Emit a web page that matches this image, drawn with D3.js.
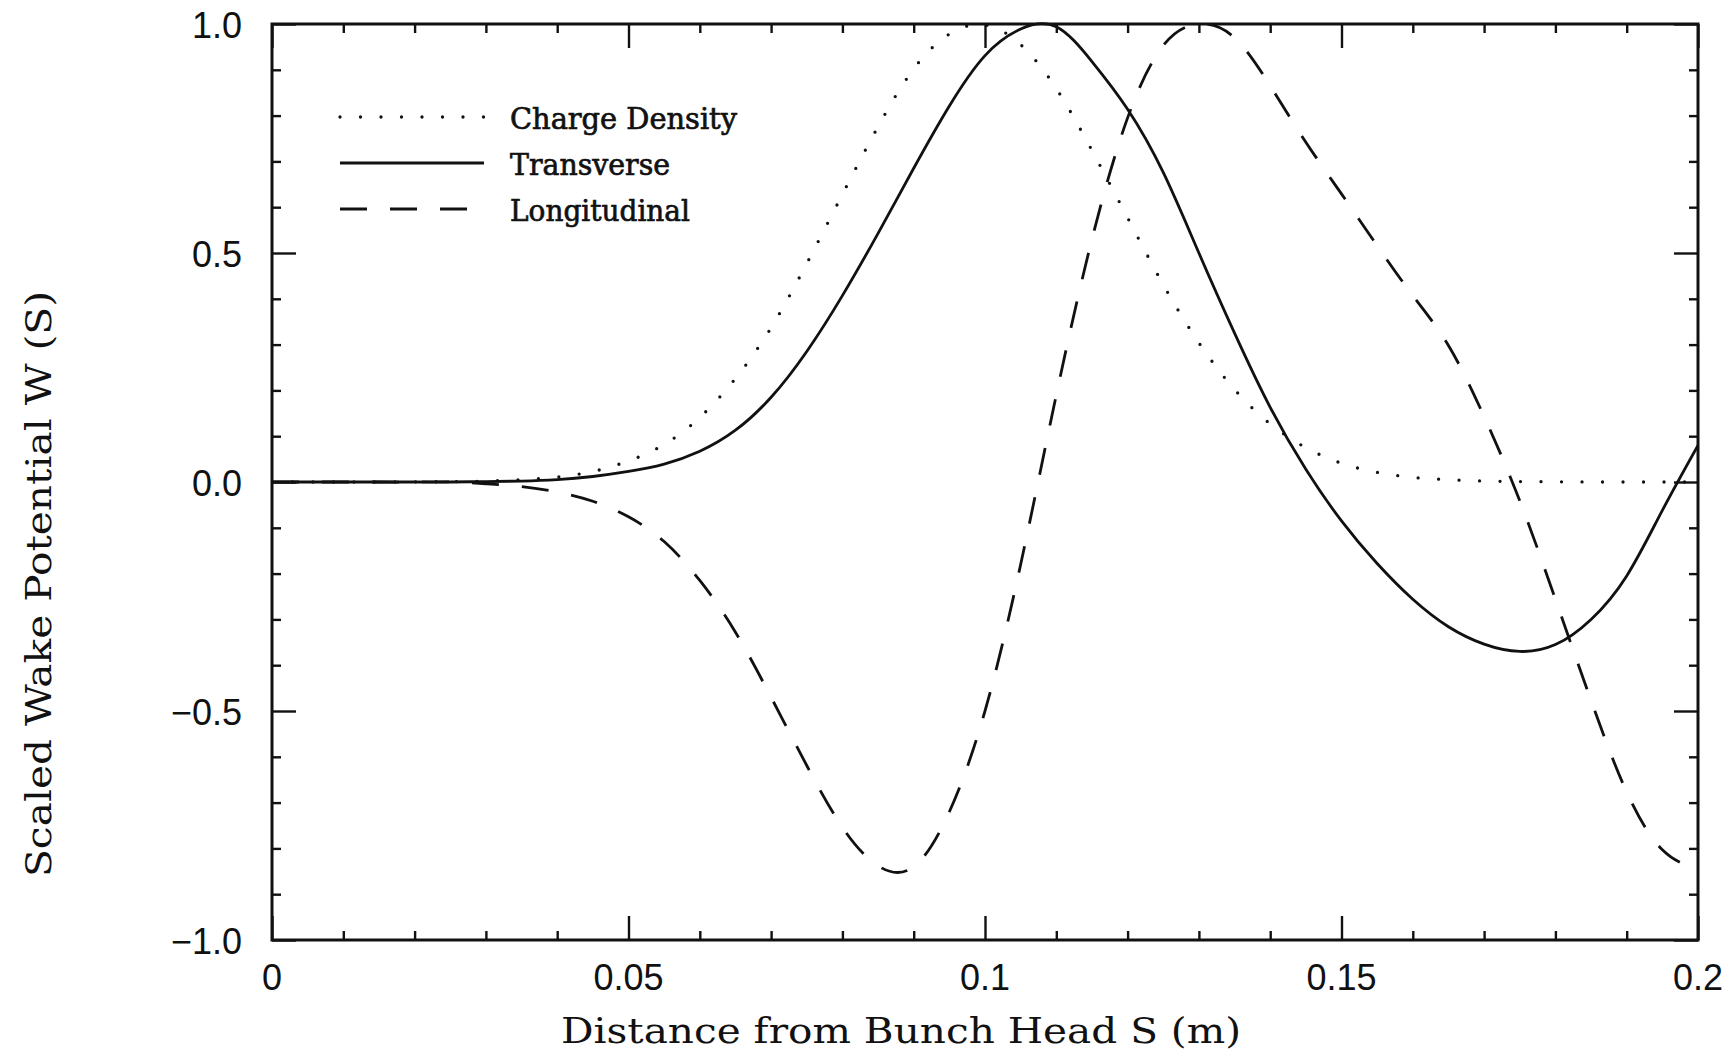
<!DOCTYPE html>
<html>
<head>
<meta charset="utf-8">
<script src="https://cdn.jsdelivr.net/npm/d3@7/dist/d3.min.js"></script>
<style>
  html, body { margin: 0; padding: 0; background: #fff; }
  svg { display: block; }
</style>
</head>
<body>
<svg id="chart" width="1725" height="1053"></svg>
<script>
// Distance from bunch head (m), sampled every 5 mm
const distance = [
  0, 0.005, 0.01, 0.015, 0.02, 0.025, 0.03, 0.035, 0.04, 0.045,
  0.05, 0.055, 0.06, 0.065, 0.07, 0.075, 0.08, 0.085, 0.09, 0.095,
  0.1, 0.105, 0.11, 0.115, 0.12, 0.125, 0.13, 0.135, 0.14, 0.145,
  0.15, 0.155, 0.16, 0.165, 0.17, 0.175, 0.18, 0.185, 0.19, 0.195, 0.2
];

// Normalised bunch charge density
const chargeDensity = [
  0, 0, 0, 0, 0.0003, 0.0008, 0.002, 0.005, 0.011, 0.023,
  0.046, 0.082, 0.141, 0.226, 0.337, 0.477, 0.628, 0.776, 0.902, 0.978,
  0.998, 0.955, 0.859, 0.724, 0.577, 0.431, 0.304, 0.202, 0.127, 0.075,
  0.041, 0.021, 0.010, 0.005, 0.002, 0.001, 0.0005, 0, 0, 0, 0
];

// Scaled transverse wake potential
const transverse = [
  0, 0, 0, 0, 0, 0, 0.001, 0.002, 0.005, 0.012,
  0.023, 0.039, 0.067, 0.113, 0.185, 0.285, 0.407, 0.543, 0.685, 0.821,
  0.931, 0.989, 0.994, 0.918, 0.814, 0.676, 0.500, 0.325, 0.163, 0.028,
  -0.085, -0.178, -0.256, -0.316, -0.354, -0.370, -0.355, -0.300, -0.205, -0.062, 0.080
];

// Scaled longitudinal wake potential
const longitudinal = [
  0, 0, 0, 0, 0, 0, -0.004, -0.010, -0.022, -0.042,
  -0.076, -0.130, -0.215, -0.328, -0.470, -0.619, -0.754, -0.838, -0.840, -0.720,
  -0.500, -0.180, 0.190, 0.530, 0.795, 0.953, 1.000, 0.970, 0.865, 0.742,
  0.629, 0.516, 0.407, 0.298, 0.143, -0.041, -0.256, -0.477, -0.677, -0.803, -0.845
];

// Axis ticks
const xTickValues = [0, 0.05, 0.1, 0.15, 0.2];
const xTickLabels = ["0", "0.05", "0.1", "0.15", "0.2"];
const xMinorTicks = [0.01, 0.02, 0.03, 0.04, 0.06, 0.07, 0.08, 0.09, 0.11, 0.12, 0.13, 0.14, 0.16, 0.17, 0.18, 0.19];
const yTickValues = [-1, -0.5, 0, 0.5, 1];
const yTickLabels = ["\u22121.0", "\u22120.5", "0.0", "0.5", "1.0"];
const yMinorTicks = [-0.9, -0.8, -0.7, -0.6, -0.4, -0.3, -0.2, -0.1, 0.1, 0.2, 0.3, 0.4, 0.6, 0.7, 0.8, 0.9];

// Series names and legend labels
const seriesNames = ["Charge Density", "Transverse", "Longitudinal"];

// ---- drawing ----
const svg = d3.select("#chart");
const W = 1725, H = 1053;
const plot = { left: 272, right: 1698, top: 24, bottom: 940 };

svg.append("rect").attr("width", W).attr("height", H).attr("fill", "#fff");

const x = d3.scaleLinear().domain([0, 0.2]).range([plot.left, plot.right]);
const y = d3.scaleLinear().domain([-1, 1]).range([plot.bottom, plot.top]);

const ink = "#111";
const majorLen = 24, minorLen = 9;

function styleAxis(g) {
  g.select(".domain").remove();
  g.selectAll(".tick line").attr("stroke", ink).attr("stroke-width", 2.4);
}

// Inward ticks on all four sides
svg.append("g").attr("transform", `translate(0,${plot.bottom})`)
  .call(d3.axisBottom(x).tickValues(xTickValues).tickSizeInner(-majorLen).tickSizeOuter(0).tickFormat(""))
  .call(styleAxis);
svg.append("g").attr("transform", `translate(0,${plot.bottom})`)
  .call(d3.axisBottom(x).tickValues(xMinorTicks).tickSizeInner(-minorLen).tickSizeOuter(0).tickFormat(""))
  .call(styleAxis);
svg.append("g").attr("transform", `translate(0,${plot.top})`)
  .call(d3.axisTop(x).tickValues(xTickValues).tickSizeInner(-majorLen).tickSizeOuter(0).tickFormat(""))
  .call(styleAxis);
svg.append("g").attr("transform", `translate(0,${plot.top})`)
  .call(d3.axisTop(x).tickValues(xMinorTicks).tickSizeInner(-minorLen).tickSizeOuter(0).tickFormat(""))
  .call(styleAxis);
svg.append("g").attr("transform", `translate(${plot.left},0)`)
  .call(d3.axisLeft(y).tickValues(yTickValues).tickSizeInner(-majorLen).tickSizeOuter(0).tickFormat(""))
  .call(styleAxis);
svg.append("g").attr("transform", `translate(${plot.left},0)`)
  .call(d3.axisLeft(y).tickValues(yMinorTicks).tickSizeInner(-minorLen).tickSizeOuter(0).tickFormat(""))
  .call(styleAxis);
svg.append("g").attr("transform", `translate(${plot.right},0)`)
  .call(d3.axisRight(y).tickValues(yTickValues).tickSizeInner(-majorLen).tickSizeOuter(0).tickFormat(""))
  .call(styleAxis);
svg.append("g").attr("transform", `translate(${plot.right},0)`)
  .call(d3.axisRight(y).tickValues(yMinorTicks).tickSizeInner(-minorLen).tickSizeOuter(0).tickFormat(""))
  .call(styleAxis);

// Tick labels
const tickFont = "'Liberation Sans', Arial, sans-serif";
svg.append("g").selectAll("text").data(xTickValues).join("text")
  .attr("x", d => x(d)).attr("y", 990)
  .attr("text-anchor", "middle")
  .attr("font-family", tickFont).attr("font-size", 36).attr("fill", ink)
  .text((d, i) => xTickLabels[i]);
svg.append("g").selectAll("text").data(yTickValues).join("text")
  .attr("x", 242).attr("y", d => y(d) + 14)
  .attr("text-anchor", "end")
  .attr("font-family", tickFont).attr("font-size", 36).attr("fill", ink)
  .text((d, i) => yTickLabels[i]);

// Axis titles
const titleFont = "'DejaVu Serif', serif";
svg.append("text")
  .attr("x", 901).attr("y", 1043)
  .attr("text-anchor", "middle")
  .attr("font-family", titleFont).attr("font-size", 36).attr("fill", ink)
  .attr("textLength", 680).attr("lengthAdjust", "spacingAndGlyphs")
  .text("Distance from Bunch Head S (m)");
svg.append("text")
  .attr("transform", "translate(51,584) rotate(-90)")
  .attr("text-anchor", "middle")
  .attr("font-family", titleFont).attr("font-size", 36).attr("fill", ink)
  .attr("textLength", 586).attr("lengthAdjust", "spacingAndGlyphs")
  .text("Scaled Wake Potential W (S)");

// Curves
const styles = [
  { width: 3.3, dash: "0 20.5", cap: "round" },
  { width: 2.8, dash: null, cap: "butt" },
  { width: 2.8, dash: "27 23", cap: "butt" }
];
const seriesValues = [chargeDensity, transverse, longitudinal];

const line = d3.line()
  .x(d => x(d[0]))
  .y(d => y(d[1]))
  .curve(d3.curveNatural);

svg.append("clipPath").attr("id", "plotClip")
  .append("rect")
  .attr("x", plot.left).attr("y", plot.top - 2)
  .attr("width", plot.right - plot.left).attr("height", plot.bottom - plot.top + 4);

const curves = svg.append("g").attr("clip-path", "url(#plotClip)");
seriesValues.forEach((vals, k) => {
  const pts = distance.map((s, i) => [s, vals[i]]);
  curves.append("path")
    .attr("d", line(pts))
    .attr("fill", "none")
    .attr("stroke", ink)
    .attr("stroke-width", styles[k].width)
    .attr("stroke-linecap", styles[k].cap)
    .attr("stroke-linejoin", "round")
    .attr("stroke-dasharray", styles[k].dash);
});

// Frame
svg.append("rect")
  .attr("x", plot.left).attr("y", plot.top)
  .attr("width", plot.right - plot.left).attr("height", plot.bottom - plot.top)
  .attr("fill", "none").attr("stroke", ink).attr("stroke-width", 3);

// Legend
const legendRows = [117, 163, 209];
const legendTextLen = [227, 160, 180];
const legend = svg.append("g");
seriesNames.forEach((name, k) => {
  legend.append("line")
    .attr("x1", 340).attr("x2", 484)
    .attr("y1", legendRows[k]).attr("y2", legendRows[k])
    .attr("stroke", ink)
    .attr("stroke-width", styles[k].width)
    .attr("stroke-linecap", styles[k].cap)
    .attr("stroke-dasharray", styles[k].dash);
  legend.append("text")
    .attr("x", 510).attr("y", legendRows[k] + 12)
    .attr("font-family", titleFont).attr("font-size", 29)
    .attr("fill", ink).attr("stroke", ink).attr("stroke-width", 0.7)
    .attr("textLength", legendTextLen[k]).attr("lengthAdjust", "spacingAndGlyphs")
    .text(name);
});
</script>
</body>
</html>
